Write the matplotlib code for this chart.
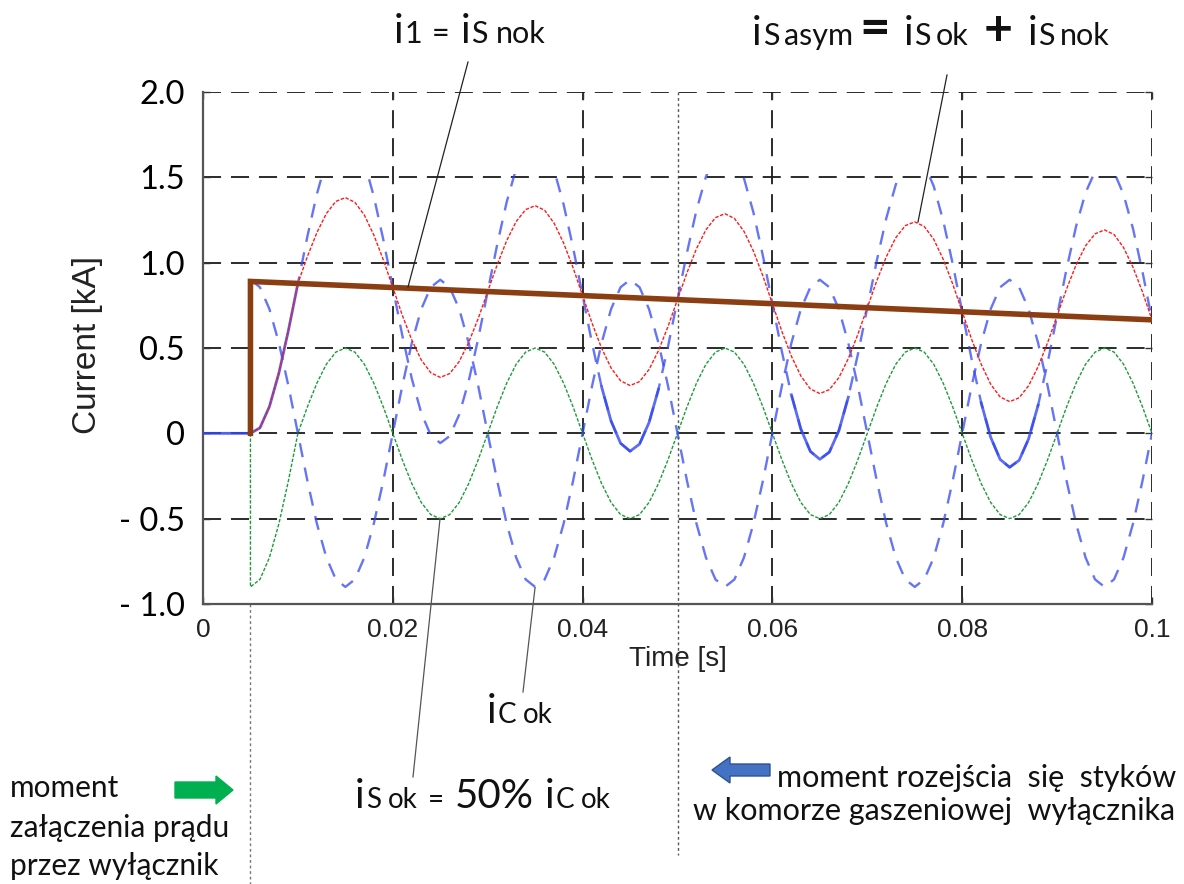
import numpy as np
import matplotlib
matplotlib.use("Agg")
import matplotlib.pyplot as plt
from matplotlib.patches import Rectangle, FancyArrow
from matplotlib.transforms import IdentityTransform

# ---------------- data ----------------
# sampling instants [ms]; the first two points describe the state before switching-on
t_ms = np.concatenate([[0, 5], np.arange(5, 101)])

# i1 = iS nok  (brown, aperiodic component)
i_nok_t_ms = [0, 5, 5, 100]
i_nok = [0.0, 0.0, 0.89, 0.665]

# iS ok (green)
i_s_ok = [0.0, 0.0,
          -0.90, -0.856, -0.728, -0.529, -0.278,
          0.0, 0.155, 0.294, 0.405, 0.476, 0.5, 0.476, 0.405, 0.294, 0.155,
          0.0, -0.155, -0.294, -0.405, -0.476, -0.5, -0.476, -0.405, -0.294, -0.155,
          0.0, 0.155, 0.294, 0.405, 0.476, 0.5, 0.476, 0.405, 0.294, 0.155,
          0.0, -0.155, -0.294, -0.405, -0.476, -0.5, -0.476, -0.405, -0.294, -0.155,
          0.0, 0.155, 0.294, 0.405, 0.476, 0.5, 0.476, 0.405, 0.294, 0.155,
          0.0, -0.155, -0.294, -0.405, -0.476, -0.5, -0.476, -0.405, -0.294, -0.155,
          0.0, 0.155, 0.294, 0.405, 0.476, 0.5, 0.476, 0.405, 0.294, 0.155,
          0.0, -0.155, -0.294, -0.405, -0.476, -0.5, -0.476, -0.405, -0.294, -0.155,
          0.0, 0.155, 0.294, 0.405, 0.476, 0.5, 0.476, 0.405, 0.294, 0.155,
          0.0]

# iS asym = iS ok + iS nok (red)
i_s_asym = [0.0, 0.0,
            0.0, 0.032, 0.157, 0.354, 0.603,
            0.878, 1.036, 1.176, 1.288, 1.359, 1.381, 1.354, 1.279, 1.162, 1.017,
            0.855, 0.692, 0.547, 0.430, 0.355, 0.328, 0.350, 0.421, 0.533, 0.673,
            0.831, 0.988, 1.129, 1.241, 1.311, 1.334, 1.307, 1.231, 1.115, 0.970,
            0.807, 0.645, 0.499, 0.383, 0.308, 0.280, 0.303, 0.374, 0.485, 0.626,
            0.784, 0.941, 1.082, 1.193, 1.264, 1.287, 1.259, 1.184, 1.068, 0.922,
            0.760, 0.597, 0.452, 0.336, 0.260, 0.233, 0.256, 0.326, 0.438, 0.579,
            0.736, 0.894, 1.034, 1.146, 1.217, 1.239, 1.212, 1.137, 1.020, 0.875,
            0.713, 0.550, 0.405, 0.288, 0.213, 0.186, 0.208, 0.279, 0.391, 0.531,
            0.689, 0.846, 0.987, 1.099, 1.169, 1.192, 1.165, 1.089, 0.973, 0.828,
            0.665]

# iC ok (blue dashed)
i_c_ok = [0.0, 0.0,
          0.9, 0.856, 0.728, 0.529, 0.278, 0.0, -0.278, -0.529, -0.728, -0.856,
          -0.9, -0.856, -0.728, -0.529, -0.278, 0.0, 0.278, 0.529, 0.728, 0.856,
          0.9, 0.856, 0.728, 0.529, 0.278, 0.0, -0.278, -0.529, -0.728, -0.856,
          -0.9, -0.856, -0.728, -0.529, -0.278, 0.0, 0.278, 0.529, 0.728, 0.856,
          0.9, 0.856, 0.728, 0.529, 0.278, 0.0, -0.278, -0.529, -0.728, -0.856,
          -0.9, -0.856, -0.728, -0.529, -0.278, 0.0, 0.278, 0.529, 0.728, 0.856,
          0.9, 0.856, 0.728, 0.529, 0.278, 0.0, -0.278, -0.529, -0.728, -0.856,
          -0.9, -0.856, -0.728, -0.529, -0.278, 0.0, 0.278, 0.529, 0.728, 0.856,
          0.9, 0.856, 0.728, 0.529, 0.278, 0.0, -0.278, -0.529, -0.728, -0.856,
          -0.9, -0.856, -0.728, -0.529, -0.278, 0.0]

# second blue trace (iS nok - iC ok), visible up to ~1.5
i_blue2 = [0.0, 0.0,
           0.0, 0.032, 0.157, 0.354, 0.603,
           0.878, 1.154, 1.402, 1.599, 1.725, 1.766, 1.720, 1.590, 1.388, 1.135,
           0.855, 0.574, 0.321, 0.119, -0.011, -0.057, -0.016, 0.110, 0.307, 0.555,
           0.831, 1.106, 1.355, 1.552, 1.677, 1.719, 1.673, 1.542, 1.341, 1.088,
           0.807, 0.527, 0.273, 0.072, -0.058, -0.105, -0.063, 0.063, 0.259, 0.508,
           0.784, 1.059, 1.308, 1.504, 1.630, 1.672, 1.625, 1.495, 1.294, 1.040,
           0.760, 0.479, 0.226, 0.025, -0.106, -0.152, -0.110, 0.015, 0.212, 0.461,
           0.736, 1.012, 1.260, 1.457, 1.583, 1.624, 1.578, 1.448, 1.246, 0.993,
           0.713, 0.432, 0.179, -0.023, -0.153, -0.199, -0.158, -0.032, 0.165, 0.413,
           0.689, 0.964, 1.213, 1.410, 1.535, 1.577, 1.531, 1.400, 1.199, 0.946,
           0.665]

x_ticks = [0, 0.02, 0.04, 0.06, 0.08, 0.1]
x_tick_labels = ["0", "0.02", "0.04", "0.06", "0.08", "0.1"]
y_ticks = [-1.0, -0.5, 0, 0.5, 1.0, 1.5, 2.0]
y_tick_labels = ["- 1.0", "- 0.5", "0", "0.5", "1.0", "1.5", "2.0"]

# ---------------- figure ----------------
W, H = 1184, 884
FONT = ["Lato", "DejaVu Sans"]
AX_FONT = ["Liberation Sans", "DejaVu Sans"]

fig = plt.figure(figsize=(W / 100, H / 100), dpi=100)
fig.patch.set_facecolor("white")
ax = fig.add_axes([203 / W, 1 - 604 / H, 949 / W, 512 / H])
ax.set_xlim(0, 0.1)
ax.set_ylim(-1.0, 2.0)

t = np.asarray(t_ms, dtype=float) / 1000.0
g = np.asarray(i_s_ok)
r = np.asarray(i_s_asym)
c = np.asarray(i_c_ok)
b2 = np.asarray(i_blue2)

BLUE = "#3347f0"
# green iS ok
ax.plot(t[1:], g[1:], color="#1e9b3c", lw=1.0, ls=(0, (2.5, 1.2)), zorder=3)
# blue dashed iC ok
ax.plot(t[2:], c[2:], color=BLUE, lw=1.7, ls=(0, (6, 4.5)), alpha=0.75, zorder=3)
# second blue trace
clip = Rectangle((0, -1.2), 0.1, 2.72, transform=ax.transData, visible=False)
ax.add_patch(clip)
m_solid = t <= 0.0101
ax.plot(t[m_solid], b2[m_solid], color=BLUE, lw=2.0, alpha=0.85, zorder=3)
m_dash = t >= 0.0099
ln, = ax.plot(t[m_dash], b2[m_dash], color=BLUE, lw=1.7, ls=(3, (6, 4.5)), alpha=0.75, zorder=3)
ln.set_clip_path(clip)
b2_solid = np.where((t >= 0.041) & (b2 < 0.3), b2, np.nan)
ax.plot(t, b2_solid, color=BLUE, lw=2.0, alpha=0.8, zorder=3)
# red iS asym
ax.plot(t[2:], r[2:], color="#ff1a1a", lw=1.0, ls=(0, (2.5, 1.2)), zorder=4)
# brown iS nok
ax.plot(np.asarray(i_nok_t_ms[1:]) / 1000.0, i_nok[1:], color="#8b3e12", lw=4.0,
        solid_joinstyle="miter", zorder=5)

# grid / spines / ticks
ax.set_xticks(x_ticks)
ax.set_xticklabels(x_tick_labels)
ax.set_yticks(y_ticks)
ax.set_yticklabels(y_tick_labels)
ax.grid(True, color="#1a1a1a", lw=1.3, ls=(0, (10, 5.5)))
ax.set_axisbelow(True)
for s in ["top", "right"]:
    ax.spines[s].set_visible(False)
for s in ["left", "bottom"]:
    ax.spines[s].set_color("#555555")
    ax.spines[s].set_linewidth(1.6)
ax.tick_params(axis="both", direction="in", length=5, width=1, color="#333333",
               top=True, right=True)
ax.tick_params(axis="x", pad=10)
ax.tick_params(axis="y", pad=13)
for lab in ax.get_xticklabels():
    lab.set_fontsize(19)
    lab.set_family(AX_FONT)
    lab.set_color("#222222")
for lab in ax.get_yticklabels():
    lab.set_fontsize(23.5)
    lab.set_family(FONT)

ax.set_xlabel("Time [s]", fontsize=20, family=AX_FONT, color="#222222")
ax.xaxis.set_label_coords(0.5, -0.083)
ax.set_ylabel("Current [kA]", fontsize=24, family=AX_FONT, color="#222222")
ax.yaxis.set_label_coords(-0.105, 0.505)

# vertical dotted markers
ax.plot([0.005, 0.005], [-1.0, -2.65], clip_on=False, color="#777777", lw=1.0,
        ls=(0, (2, 2)), zorder=2)
ax.plot([0.05, 0.05], [2.0, -2.47], clip_on=False, color="#555555", lw=1.0,
        ls=(0, (2, 2)), zorder=2)

# ---------------- annotations ----------------
def fx(x):
    return x / W


def fy(y):
    return 1 - y / H


renderer = fig.canvas.get_renderer()


def rich(x_px, y_px, pieces):
    x = x_px
    for txt, size, weight, gap in pieces:
        tx = fig.text(fx(x), fy(y_px), txt, fontsize=size, fontweight=weight,
                      family=FONT, ha="left", va="baseline", color="#111111")
        bb = tx.get_window_extent(renderer)
        x = bb.x1 + gap


BIG, SM, SM2 = 29, 22, 20
rich(394, 43, [("i", BIG, "normal", 1), ("1", SM, "normal", 9), ("=", SM, "normal", 12),
               ("i", BIG, "normal", 1), ("S", SM, "normal", 8), ("nok", SM, "normal", 0)])
rich(752, 45, [("i", BIG, "normal", 1), ("S", SM, "normal", 5), ("asym", SM, "normal", 6),
               ("=", 38, "bold", 14), ("i", BIG, "normal", 1), ("S", SM, "normal", 5),
               ("ok", SM, "normal", 15), ("+", 36, "bold", 15), ("i", BIG, "normal", 1),
               ("S", SM, "normal", 5), ("nok", SM, "normal", 0)])
rich(487, 723, [("i", BIG, "normal", 1), ("C", SM2, "normal", 7), ("ok", SM2, "normal", 0)])
rich(355, 808, [("i", BIG, "normal", 1), ("S", SM2, "normal", 7), ("ok", SM2, "normal", 10),
                ("=", SM2, "normal", 11), ("50%", BIG, "normal", 11), ("i", BIG, "normal", 1),
                ("C", SM2, "normal", 7), ("ok", SM2, "normal", 0)])

for s, x, y, fs in [("moment", 10, 797, 21.5), ("załączenia prądu", 10, 837, 21.5),
                    ("przez wyłącznik", 10, 875, 21.5),
                    ("moment rozejścia  się  styków", 777, 787, 22),
                    ("w komorze gaszeniowej  wyłącznika", 693, 820, 22)]:
    fig.text(fx(x), fy(y), s, fontsize=fs, family=FONT, ha="left", va="baseline",
             color="#111111")

# leader lines (figure pixel coords)
for (x0, y0, x1, y1, col) in [(468, 62, 408, 287, "#222222"),
                              (947, 75, 918, 222, "#222222"),
                              (440, 519, 413, 777, "#555555"),
                              (535, 588, 523, 692, "#555555")]:
    fig.add_artist(plt.Line2D([fx(x0), fx(x1)], [fy(y0), fy(y1)], color=col, lw=0.9,
                              transform=fig.transFigure))

# arrows (display pixel coords)
def arrow(x_tail, x_tip, yc, shaft, head_w, head_l, face, edge):
    a = FancyArrow(x_tail, H - yc, x_tip - x_tail, 0, width=shaft, head_width=head_w,
                   head_length=head_l, length_includes_head=True,
                   transform=IdentityTransform(), facecolor=face, edgecolor=edge, lw=1)
    fig.add_artist(a)


arrow(175, 233, 790, 16, 28, 17, "#00b050", "#00b050")
arrow(770, 712, 770, 12, 26, 18, "#4472c4", "#2f528f")

fig.savefig("out.png", dpi=100)
